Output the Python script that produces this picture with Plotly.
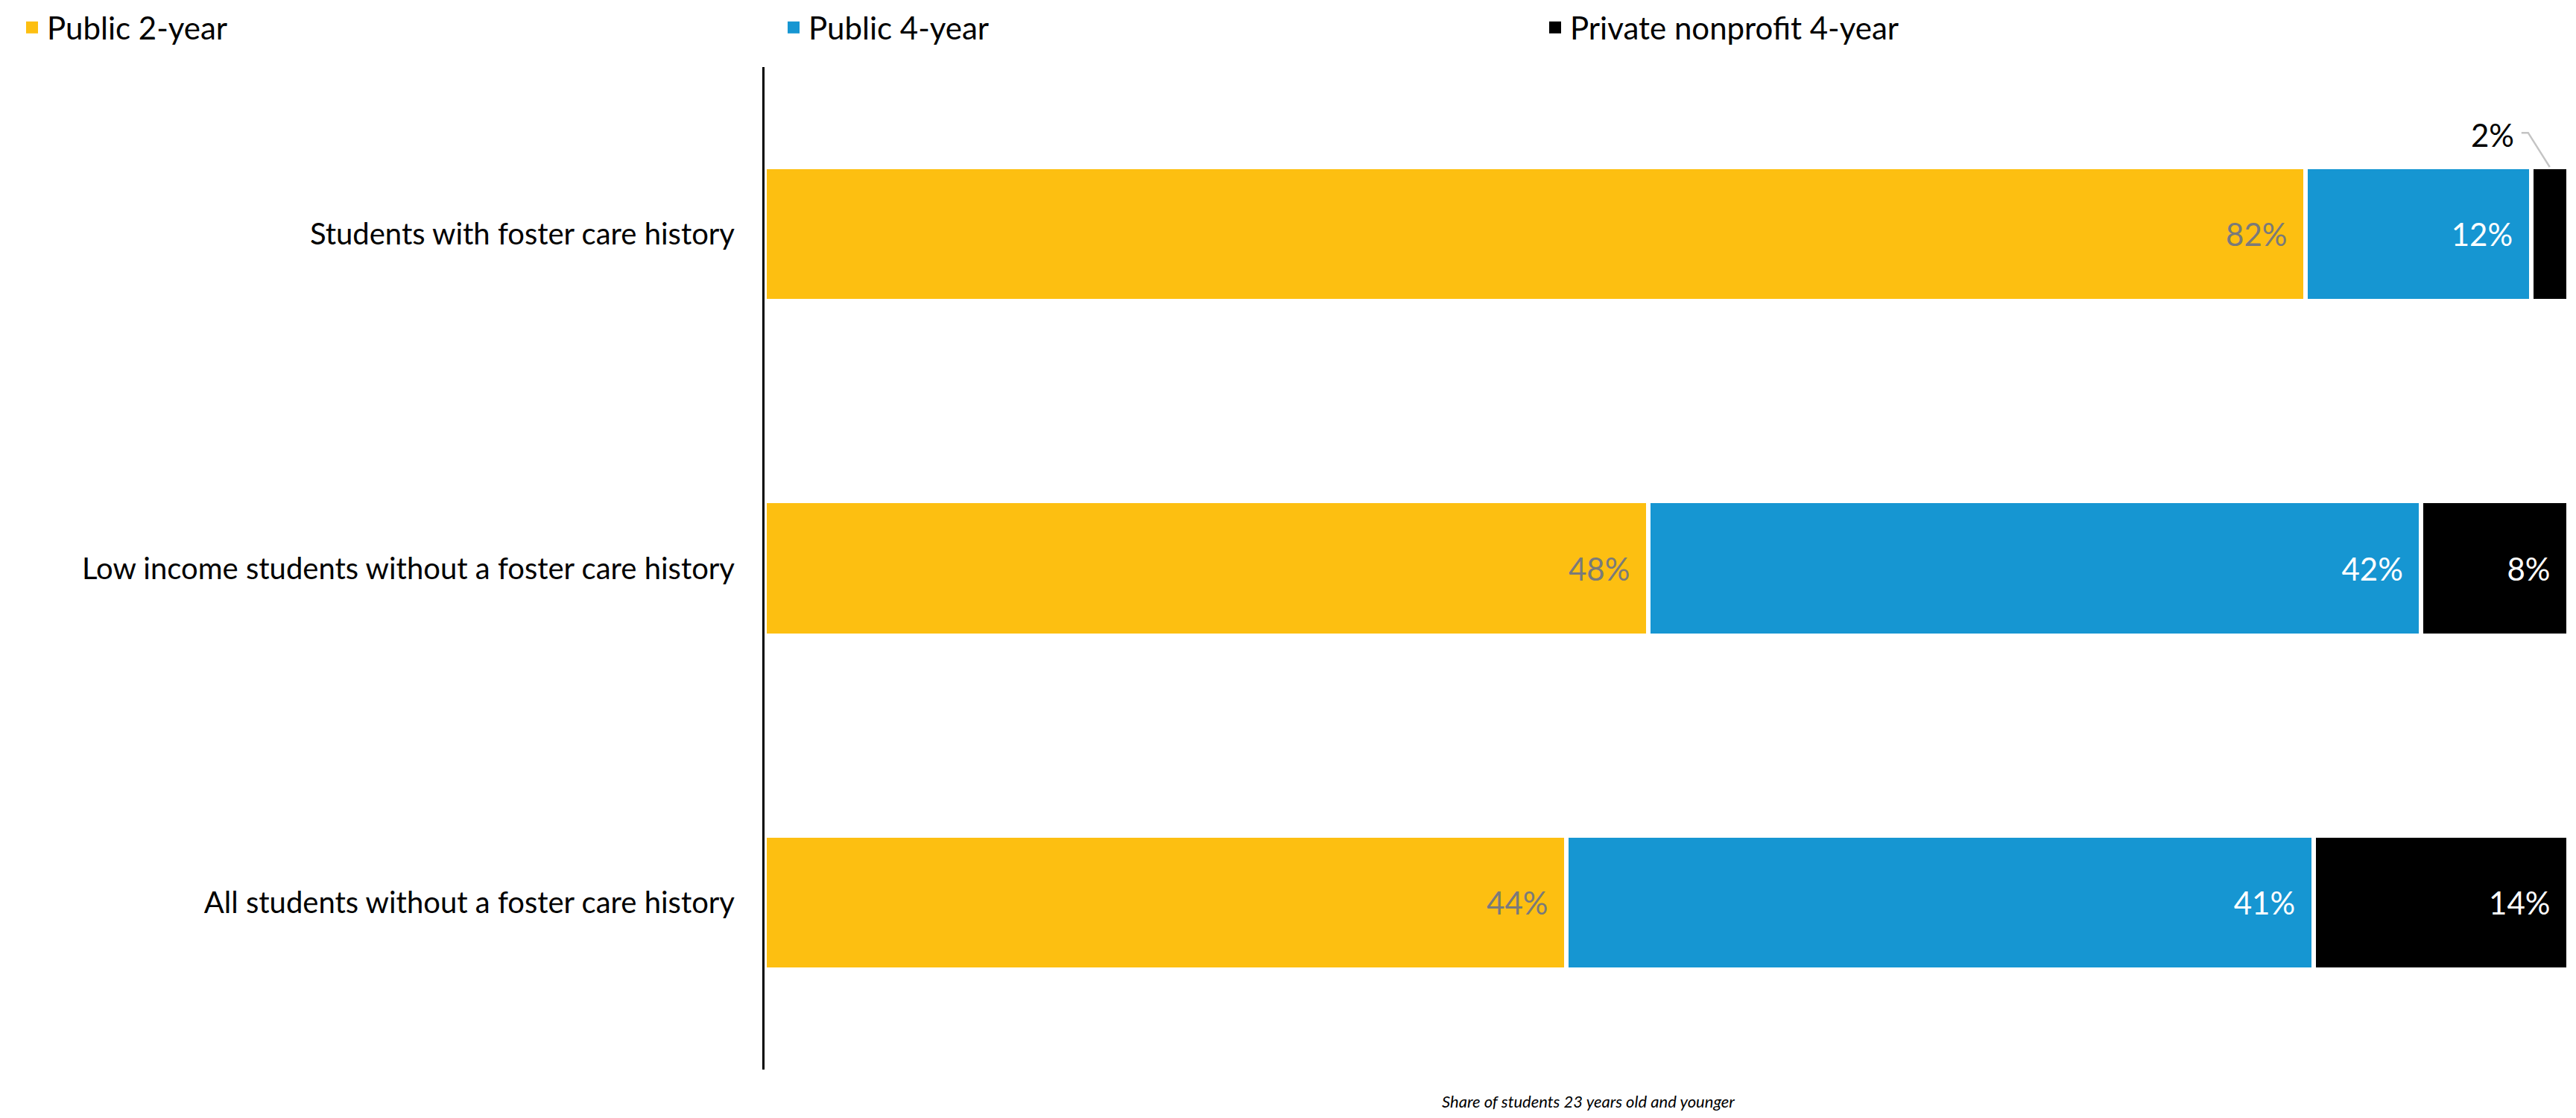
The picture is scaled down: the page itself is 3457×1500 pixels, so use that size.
import plotly.graph_objects as go

# Sector shares of students 23 and younger, by group
categories = [
    "Students with foster care history",
    "Low income students without a foster care history",
    "All students without a foster care history",
]
series_names = ["Public 2-year", "Public 4-year", "Private nonprofit 4-year"]
public_2yr = [82, 48, 44]
public_4yr = [12, 42, 41]
private_np_4yr = [2, 8, 14]

series_values = [public_2yr, public_4yr, private_np_4yr]
colors = ["#FDBF11", "#1696D2", "#000000"]
label_colors = ["#7a7a7a", "#ffffff", "#ffffff"]

FONT = "Lato"
W, H = 3457, 1500
M_L, M_R, M_T, M_B = 1026, 10, 90, 65
PLOT_W = W - M_L - M_R
PLOT_H = H - M_T - M_B
SMALL = 5  # segments narrower than this get a callout label instead of an inside label
NBSP = "\u00a0"

fig = go.Figure()

for name, vals, col, tcol in zip(series_names, series_values, colors, label_colors):
    texts = [f"{v}%{NBSP}{NBSP}" if v >= SMALL else "" for v in vals]
    fig.add_trace(go.Bar(
        name=name, y=categories, x=vals, orientation="h",
        marker=dict(color=col, line=dict(color="#ffffff", width=6)),
        text=texts, textposition="inside", insidetextanchor="end",
        textfont=dict(family=FONT, size=42, color=tcol),
        constraintext="none", showlegend=False, hoverinfo="skip",
    ))

# Legend entries with square swatches
for name, col in zip(series_names, colors):
    fig.add_trace(go.Scatter(
        x=[None], y=[None], mode="markers", name=name,
        marker=dict(symbol="square", size=17, color=col),
        showlegend=True,
    ))

# Callout for segments too thin to hold their own label
for ci, cat in enumerate(categories):
    totals = sum(s[ci] for s in series_values)
    start = 0
    for si, vals in enumerate(series_values):
        v = vals[ci]
        if v < SMALL:
            mid = (start + v / 2) / totals * 100
            fig.add_annotation(
                x=mid, y=cat, xref="x", yref="y",
                text=f"{v}%", showarrow=False,
                xanchor="right", yanchor="middle",
                xshift=-46, yshift=133,
                font=dict(family=FONT, size=42, color="#000000"),
            )
            fig.add_shape(
                type="path", xref="x", yref="y",
                xsizemode="pixel", ysizemode="pixel",
                xanchor=mid, yanchor=ci,
                path="M -38,136 L -29,136 L 0,90",
                line=dict(color="#c4c4c4", width=2.5),
            )
        start += v

fig.add_annotation(
    x=(2131 - M_L) / PLOT_W, y=-0.0315, xref="paper", yref="paper",
    text="<i>Share of students 23 years old and younger</i>", showarrow=False,
    xanchor="center", yanchor="middle",
    font=dict(family=FONT, size=22, color="#000000"),
)

LEG_INSET = 23  # transparent border that insets the legend row from the page edge
LEG_RAISE = 20  # lift the legend row closer to the top edge

fig.update_layout(
    width=W, height=H,
    margin=dict(l=M_L, r=M_R, t=M_T, b=M_B, pad=0, autoexpand=False),
    barmode="stack", barnorm="percent", bargap=0.598,
    paper_bgcolor="#ffffff", plot_bgcolor="#ffffff",
    font=dict(family=FONT, size=40, color="#000000"),
    legend=dict(
        orientation="h", xref="paper", yref="paper",
        x=-M_L / PLOT_W, y=1 + (M_T + LEG_RAISE) / PLOT_H,
        xanchor="left", yanchor="top",
        borderwidth=LEG_INSET, bordercolor="rgba(0,0,0,0)",
        entrywidth=977, entrywidthmode="pixels", traceorder="normal",
        font=dict(family=FONT, size=42, color="#000000"),
        itemsizing="trace", bgcolor="rgba(0,0,0,0)",
    ),
    xaxis=dict(
        range=[0, 100], showgrid=False, zeroline=False, showline=False,
        showticklabels=False, ticks="", fixedrange=True,
    ),
    yaxis=dict(
        autorange="reversed", showgrid=False, zeroline=False,
        showline=True, linecolor="#000000", linewidth=3, ticks="",
        ticklabelstandoff=29,
        tickfont=dict(family=FONT, size=40, color="#000000"),
    ),
)

fig.write_html("out.html")
